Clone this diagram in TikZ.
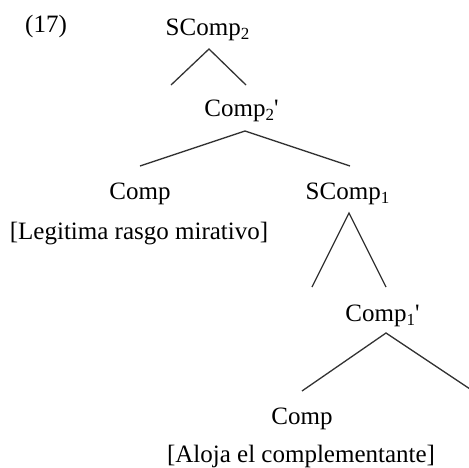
\documentclass[tikz,border=0pt]{standalone}
\usepackage{fontspec}
\setmainfont{Liberation Serif}
\newcommand\sbs[1]{\raisebox{-4pt}{\fontsize{17}{17}\selectfont #1}}
\begin{document}
\begin{tikzpicture}[x=1pt,y=-1pt,
  lbl/.style={inner sep=0pt,anchor=base,font=\fontsize{25}{30}\selectfont},
  branch/.style={draw=black!80,line width=1.3pt}]
\useasboundingbox (0,0) rectangle (469,467);
% labels
\node[lbl,anchor=base west] (num) at (25,32) {(17)};
\node[lbl] (scomp2) at (207.5,35) {SComp\sbs{2}};
\node[lbl] (comp2p) at (241.5,116) {Comp\sbs{2}\textquotesingle};
\node[lbl] (compL) at (140,199) {Comp};
\node[lbl] (legit) at (139,239) {[Legitima rasgo mirativo]};
\node[lbl] (scomp1) at (347.5,199) {SComp\sbs{1}};
\node[lbl] (comp1p) at (382.5,321) {Comp\sbs{1}\textquotesingle};
\node[lbl] (compB) at (302,424) {Comp};
\node[lbl] (aloja) at (301,462) {[Aloja el complementante]};
% branch points
\coordinate (s2top) at (209,49);
\coordinate (s2left) at (171,85);
\coordinate (s2right) at (246,85);
\coordinate (c2top) at (245,131);
\coordinate (c2left) at (140,166);
\coordinate (c2right) at (350,166);
\coordinate (s1top) at (349,213);
\coordinate (s1left) at (312,287);
\coordinate (s1right) at (386,287);
\coordinate (c1top) at (386,333);
\coordinate (c1left) at (302,391);
\coordinate (c1right) at (473,391);
% branches
\draw[branch] (s2left) -- (s2top) -- (s2right);
\draw[branch] (c2left) -- (c2top) -- (c2right);
\draw[branch] (s1left) -- (s1top) -- (s1right);
\draw[branch] (c1left) -- (c1top) -- (c1right);
\end{tikzpicture}
\end{document}
